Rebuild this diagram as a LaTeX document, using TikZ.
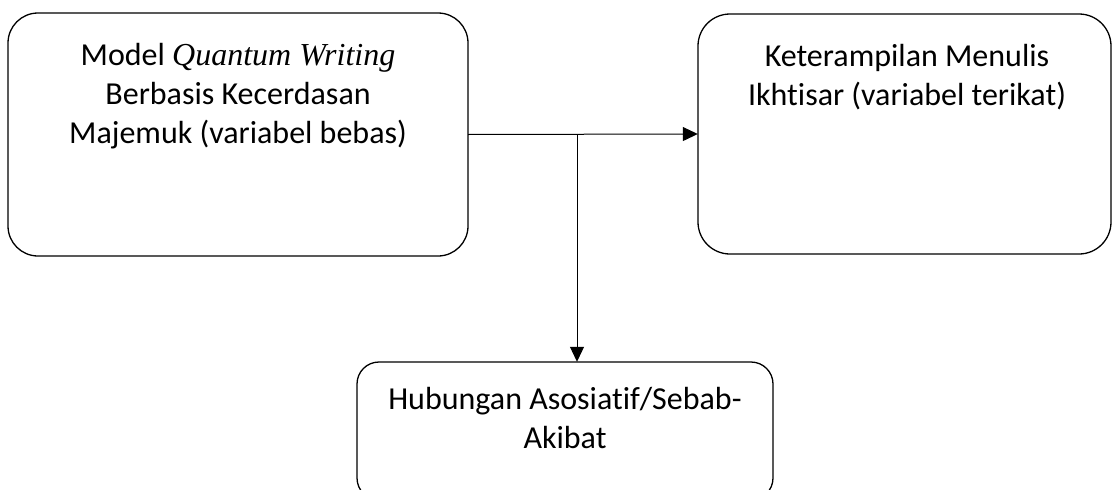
\documentclass[tikz,border=0pt]{standalone}
\usepackage{fontspec}
\setmainfont[Ligatures=NoCommon]{Carlito}
\newfontfamily\tnr{Liberation Serif}
\usetikzlibrary{arrows.meta,calc}
\begin{document}
\begin{tikzpicture}[x=1pt,y=-1pt,
  box/.style={draw, line width=1.3pt, rounded corners=#1},
  lbl/.style={anchor=base, align=center, inner sep=0pt, font=\fontsize{32}{39}\selectfont},
  conn/.style={line width=1pt, -{Triangle[length=15pt,width=14pt]}}]
\useasboundingbox (0,0) rectangle (1112,490);
\clip (0,0) rectangle (1112,490);
% boxes
\draw[box=30] (8,13) rectangle (468,256);
\draw[box=32] (698,14) rectangle (1111,254);
\draw[box=22] (357,362) rectangle (773,500);
\node[inner sep=0pt, minimum width=460pt, minimum height=243pt] (src) at (238,134.5) {};
\node[inner sep=0pt, minimum width=413pt, minimum height=240pt] (dst) at (904.5,134) {};
\node[inner sep=0pt, minimum width=416pt, minimum height=138pt] (rel) at (565,431) {};
% texts
\node[lbl] (t1) at (238,143) {Model {\tnr\itshape\fontsize{32}{39}\selectfont Quantum Writing}\\Berbasis Kecerdasan\\Majemuk (variabel bebas)};
\node[lbl] (t2) at (907,105) {Keterampilan Menulis\\Ikhtisar (variabel terikat)};
\node[lbl] (t3) at (565,448) {Hubungan Asosiatif/Sebab-\\Akibat};
% connectors
\coordinate (j) at (577,134);
\draw[conn] (src.east) -- (dst.west);
\draw[conn] (j) -- (j |- rel.north);
\end{tikzpicture}
\end{document}
